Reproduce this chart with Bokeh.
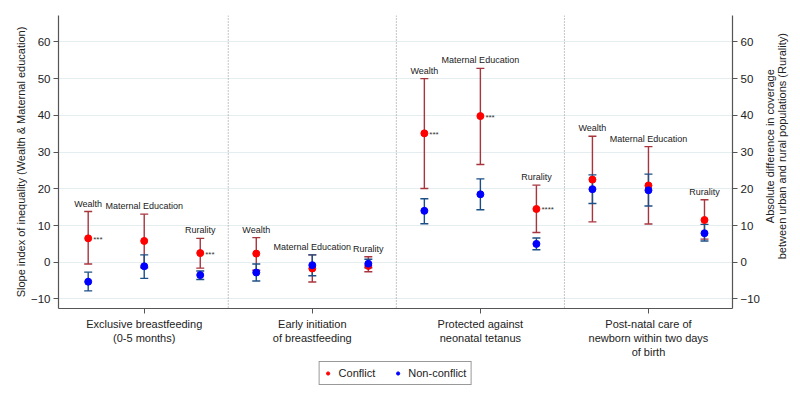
import math
from bokeh.plotting import figure
from bokeh.models import (ColumnDataSource, Range1d, LinearAxis, FixedTicker, Span,
                          Legend, LegendItem)
from bokeh.layouts import column, row
from bokeh.core.properties import value
from bokeh.embed import file_html
from bokeh.resources import INLINE

# ---------------- data ----------------
indicators = ["Exclusive breastfeeding\n(0-5 months)",
              "Early initiation\nof breastfeeding",
              "Protected against\nneonatal tetanus",
              "Post-natal care of\nnewborn within two days\nof birth"]
dimensions = ["Wealth", "Maternal Education", "Rurality"]

# per indicator, per dimension (Wealth, Maternal Education, Rurality)
conflict_est = [6.5, 5.8, 2.5,   2.35, -1.7, -1.0,   35.1, 39.8, 14.5,   22.5, 20.9, 11.5]
conflict_lo  = [-0.5, -1.5, -1.6, -2.2, -5.4, -2.6,  20.1, 26.6, 8.1,    11.0, 10.4, 6.3]
conflict_hi  = [13.8, 13.1, 6.5,  6.7, 2.0, 1.5,     50.0, 52.8, 21.0,   34.3, 31.5, 17.0]
nonconf_est  = [-5.3, -1.1, -3.5, -2.8, -0.8, -0.4,  14.0, 18.5, 5.0,    19.9, 19.6, 7.9]
nonconf_lo   = [-7.8, -4.4, -4.7, -5.1, -3.7, -1.5,  10.5, 14.3, 3.4,    16.0, 15.3, 5.8]
nonconf_hi   = [-2.7, 2.0, -2.4,  -0.5, 2.0, 0.8,    17.3, 22.7, 6.6,    23.8, 24.0, 10.3]
stars        = ["***", "", "***", "", "", "",         "***", "***", "****", "", "", ""]
series       = ["Conflict", "Non-conflict"]
left_title   = "Slope index of inequality (Wealth & Maternal education)"
right_title  = "Absolute difference in coverage\nbetween urban and rural populations (Rurality)"

y_ticks = [-10, 0, 10, 20, 30, 40, 50, 60]

# ---------------- positions ----------------
offsets = [-1/3, 0, 1/3]
xs, dim_labels = [], []
for i in range(len(indicators)):
    for j, d in enumerate(dimensions):
        xs.append(i + 1 + offsets[j])
        dim_labels.append(d)
label_y = [max(a, b) for a, b in zip(conflict_hi, nonconf_hi)]

src = ColumnDataSource(dict(x=xs, c=conflict_est, clo=conflict_lo, chi=conflict_hi,
                            n=nonconf_est, nlo=nonconf_lo, nhi=nonconf_hi,
                            stars=stars, lab=dim_labels, ly=label_y))

FONT = "Liberation Sans"
RED_PT, BLUE_PT = "#ff0000", "#0000ff"
RED_CI, BLUE_CI = "#a8343e", "#1c4f86"
MAIN_H = 361
RIGHT_W = 37

p = figure(width=800 - RIGHT_W, height=MAIN_H, output_backend="svg", toolbar_location=None,
           x_range=Range1d(0.49, 4.5), y_range=Range1d(-12.6, 67.2),
           min_border_left=58, min_border_right=23, min_border_top=15, min_border_bottom=48)
p.outline_line_color = None
p.background_fill_color = "white"
p.border_fill_color = "white"

# grid
p.xgrid.grid_line_color = None
p.ygrid.ticker = FixedTicker(ticks=y_ticks)
p.ygrid.grid_line_color = "#e4eef0"
p.ygrid.grid_line_width = 1

# left axis
ax = p.yaxis[0]
ax.ticker = FixedTicker(ticks=y_ticks)
ax.axis_label = left_title

# right axis (label drawn in a side strip)
rax = LinearAxis(ticker=FixedTicker(ticks=y_ticks))
p.add_layout(rax, "right")

# bottom axis
xax = p.xaxis[0]
xax.ticker = FixedTicker(ticks=[1, 2, 3, 4])
xax.major_label_overrides = {i + 1: lab for i, lab in enumerate(indicators)}

for a in [ax, rax, xax]:
    a.axis_line_color = "#555555"
    a.axis_line_width = 1.2
    a.major_tick_line_color = "#555555"
    a.major_tick_out = 5
    a.major_tick_in = 0
    a.minor_tick_line_color = None
    a.major_label_text_font = FONT
    a.major_label_text_color = "#222222"
    a.axis_label_text_font = FONT
    a.axis_label_text_font_style = "normal"
    a.axis_label_text_color = "#222222"
    a.axis_label_text_font_size = "11px"
    a.axis_label_standoff = 4
    a.major_label_standoff = 3
ax.axis_label_standoff = 1
ax.major_label_text_font_size = "11.5px"
rax.major_label_text_font_size = "11.5px"
xax.major_label_text_font_size = "11px"
xax.major_label_standoff = 4

# dividers
for loc in [1.5, 2.5, 3.5]:
    p.add_layout(Span(location=loc, dimension="height", line_color="#8a8a8a",
                      line_dash="1 2", line_width=1))

# error bars
p.segment(x0="x", y0="clo", x1="x", y1="chi", source=src, line_color=RED_CI, line_width=1.4)
p.scatter(x="x", y="clo", source=src, marker="dash", size=8, line_color=RED_CI, line_width=1.4)
p.scatter(x="x", y="chi", source=src, marker="dash", size=8, line_color=RED_CI, line_width=1.4)
p.segment(x0="x", y0="nlo", x1="x", y1="nhi", source=src, line_color=BLUE_CI, line_width=1.4)
p.scatter(x="x", y="nlo", source=src, marker="dash", size=8, line_color=BLUE_CI, line_width=1.4)
p.scatter(x="x", y="nhi", source=src, marker="dash", size=8, line_color=BLUE_CI, line_width=1.4)

# points
p.scatter(x="x", y="c", source=src, size=7, fill_color=RED_PT, line_color=RED_PT)
p.scatter(x="x", y="n", source=src, size=7, fill_color=BLUE_PT, line_color=BLUE_PT)

# stars
p.text(x="x", y="c", text="stars", source=src, x_offset=5, y_offset=1,
       text_font=value(FONT), text_font_size="8px", text_align="left",
       text_baseline="middle", text_color="#333333")

# dimension labels
p.text(x="x", y="ly", text="lab", source=src, y_offset=-8,
       text_font=value(FONT), text_font_size="9px", text_align="center",
       text_baseline="middle", text_color="#222222")

# ---------------- right title strip ----------------
pr = figure(width=RIGHT_W, height=MAIN_H, output_backend="svg", toolbar_location=None,
            x_range=Range1d(0, RIGHT_W), y_range=Range1d(0, MAIN_H),
            x_axis_type=None, y_axis_type=None,
            min_border_left=0, min_border_right=0, min_border_top=0, min_border_bottom=0)
pr.outline_line_color = None
pr.grid.grid_line_color = None
pr.text(x=[12], y=[MAIN_H - 161], text=[right_title], angle=math.pi / 2,
        text_font=value(FONT), text_font_size="11px", text_align="center",
        text_baseline="middle", text_color="#222222", text_line_height=1.0)

# ---------------- legend strip ----------------
p2 = figure(width=800, height=400 - MAIN_H, output_backend="svg", toolbar_location=None,
            x_range=Range1d(0, 1), y_range=Range1d(0, 1),
            x_axis_type=None, y_axis_type=None,
            min_border_left=58, min_border_right=68, min_border_top=0, min_border_bottom=0)
p2.outline_line_color = None
p2.grid.grid_line_color = None
lc = p2.scatter(x=[-5], y=[-5], size=6, fill_color=RED_PT, line_color=RED_PT)
ln = p2.scatter(x=[-5], y=[-5], size=6, fill_color=BLUE_PT, line_color=BLUE_PT)

legend = Legend(items=[LegendItem(label=series[0], renderers=[lc]),
                       LegendItem(label=series[1], renderers=[ln])],
                orientation="horizontal", location="top_center")
legend.label_text_font = FONT
legend.label_text_font_size = "11px"
legend.label_text_color = "#222222"
legend.border_line_color = "#333333"
legend.border_line_width = 1
legend.glyph_width = 8
legend.glyph_height = 14
legend.label_height = 14
legend.label_standoff = 7
legend.spacing = 18
legend.padding = 4
legend.margin = 0
p2.add_layout(legend)

open("out.html", "w").write(file_html(column(row(p, pr), p2), INLINE))
